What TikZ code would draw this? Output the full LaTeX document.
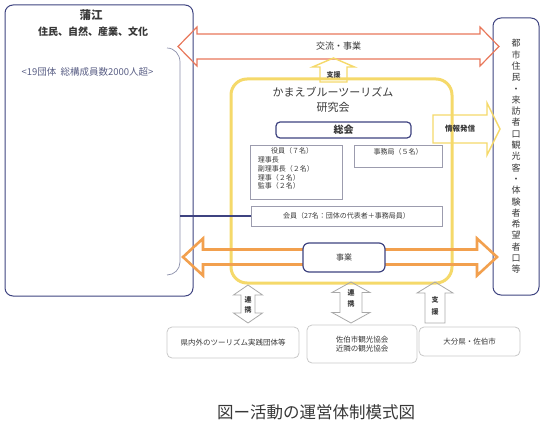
\documentclass[tikz,border=0pt]{standalone}
\usepackage{fontspec}
\setmainfont{Noto Sans CJK JP}
\usetikzlibrary{positioning,calc}
\definecolor{navy}{HTML}{3E4380}
\definecolor{ink}{HTML}{383838}
\definecolor{slate}{HTML}{5A5F85}
\definecolor{ornred}{HTML}{E8775A}
\definecolor{orng}{HTML}{F2A04E}
\definecolor{ylw}{HTML}{F5D96A}
\definecolor{gry}{HTML}{A9A9A9}
\definecolor{lgry}{HTML}{C8C8C8}
\definecolor{boxgry}{HTML}{9C9CAE}
\newcommand\fsz[2]{\fontsize{#1}{#2}\selectfont}
% hollow double arrow: style, end A, end B, half shaft, half head, head length
\newcommand\fatdarrow[6]{%
  \path (#2) coordinate (da) (#3) coordinate (db)
        ($(da)!#6!(db)$) coordinate (dha) ($(db)!#6!(da)$) coordinate (dhb);
  \draw[#1] (da) -- ($(dha)!#5!90:(db)$) -- ($(dha)!#4!90:(db)$)
        -- ($(dhb)!#4!-90:(da)$) -- ($(dhb)!#5!-90:(da)$) -- (db)
        -- ($(dhb)!#5!90:(da)$) -- ($(dhb)!#4!90:(da)$)
        -- ($(dha)!#4!-90:(db)$) -- ($(dha)!#5!-90:(db)$) -- cycle;}
% hollow single arrow: style, tail, tip, half shaft, half head, head length
\newcommand\fatsarrow[6]{%
  \path (#2) coordinate (sa) (#3) coordinate (sb) ($(sb)!#6!(sa)$) coordinate (sh);
  \draw[#1] ($(sa)!#4!90:(sb)$) -- ($(sh)!#4!-90:(sa)$) -- ($(sh)!#5!-90:(sa)$)
        -- (sb) -- ($(sh)!#5!90:(sa)$) -- ($(sh)!#4!90:(sa)$)
        -- ($(sa)!#4!-90:(sb)$) -- cycle;}
\tikzset{
  % plain text
  txt/.style     = {inner sep=0pt, align=center, text=ink},
  % outer party boxes (left / right)
  party/.style   = {rectangle, rounded corners=8pt, draw=navy, line width=1pt},
  % the study group
  group/.style   = {rectangle, rounded corners=16pt, draw=ylw, line width=3pt},
  % framed boxes inside the group
  navybox/.style = {rectangle, rounded corners=4pt, draw=navy, line width=1.2pt, fill=white},
  thinbox/.style = {rectangle, draw=boxgry, line width=.6pt},
  % partners below
  partner/.style = {rectangle, rounded corners=5pt, draw=lgry, line width=.8pt},
  % hollow arrows
  redarr/.style  = {draw=ornred, line width=1.2pt},
  orarr/.style   = {draw=orng, line width=2.6pt},
  ylarr/.style   = {draw=ylw, line width=1.4pt},
  grarr/.style   = {draw=gry, line width=.8pt},
  link/.style    = {draw=navy, line width=2.4pt},
  bracket/.style = {draw=slate!70, line width=.7pt},
}
\begin{document}
\begin{tikzpicture}[x=1pt, y=-1pt]
  \useasboundingbox (0,0) rectangle (543,425);

  % left: Kamae
  \node[party, minimum width=188pt, minimum height=291pt] (kamae) at (99,150.5) {};
  \node[txt, font=\fsz{11.5}{13}\bfseries] (kname) at (91,15) {蒲江};
  \node[txt, font=\fsz{10}{12}\bfseries] (kres) at (93,32) {住民、自然、産業、文化};
  \node[txt, font=\fsz{9.5}{11}, text=slate] (kgrp) at (87.5,72) {<19団体\ \ 総構成員数2000人超>};
  \coordinate (brkA) at (167,48);
  \coordinate (brkB) at (180,62);
  \coordinate (brkC) at (180,262);
  \coordinate (brkD) at (167,275);
  \coordinate (brk) at (180,216);
  \draw[bracket] (brkA) to[out=0,in=90] (brkB) -- (brkC) to[out=-90,in=0] (brkD);

  % right: visitors
  \node[party, minimum width=46pt, minimum height=277pt] (visit) at (516,156.5) {};
  \node[txt, font=\fsz{9}{11.3}] (vtext) at (visit)
       {都\\市\\住\\民\\・\\来\\訪\\者\\口\\観\\光\\客\\・\\体\\験\\者\\希\\望\\者\\口\\等};

  % top exchange arrow
  \coordinate (xchgL) at (178,46.5);
  \coordinate (xchgR) at (499,46.5);
  \fatdarrow{redarr}{xchgL}{xchgR}{12.5pt}{19.5pt}{19pt}
  \node[txt, font=\fsz{9}{11}] (xchg) at ($(xchgL)!.5!(xchgR)$) {交流・事業};

  % study group
  \node[group, minimum width=221pt, minimum height=204pt] (kenkyu) at (341.5,181) {};
  \node[txt, font=\fsz{11}{15}] (title) at (333,100) {かまえブルーツーリズム\\研究会};
  \coordinate (shienT) at (333.5,58);
  \coordinate (shienB) at (333.5,82);
  \fatsarrow{ylarr}{shienB}{shienT}{13.5pt}{21pt}{9pt}
  \node[txt, font=\fsz{7}{8}\bfseries] (shien) at (333.5,74.5) {支援};

  \node[navybox, minimum width=135pt, minimum height=16pt] (sokai) at (343.5,130) {};
  \node[txt, font=\fsz{10}{12}\bfseries] at (sokai) {総会};

  \node[thinbox, minimum width=92pt, minimum height=54pt] (yakuin) at (296,172) {};
  \node[txt, font=\fsz{7}{8}, anchor=north] (yhead) at ([xshift=-4pt,yshift=-3pt]yakuin.north) {役員（７名）};
  \node[txt, font=\fsz{7}{8.7}, align=left, anchor=north west] (ylist) at ([xshift=8pt,yshift=-12pt]yakuin.north west)
       {理事長\\副理事長（２名）\\理事（２名）\\監事（２名）};

  \node[thinbox, minimum width=88pt, minimum height=22pt] (jimu) at (398,156) {};
  \node[txt, font=\fsz{7}{8}, anchor=north] (jhead) at ([yshift=-3.5pt]jimu.north) {事務局（５名）};

  \node[thinbox, minimum width=191pt, minimum height=20pt] (kaiin) at (346.5,216) {};
  \node[txt, font=\fsz{7}{8}] at (kaiin) {会員（27名：団体の代表者＋事務局員）};

  \draw[link] (brk) -- (kaiin.west);

  % information arrow
  \coordinate (johoL) at (433,129);
  \coordinate (johoR) at (500,129);
  \fatsarrow{ylarr}{johoL}{johoR}{14pt}{26pt}{13pt}
  \node[txt, font=\fsz{7.5}{9}\bfseries] (joho) at (460,129) {情報発信};

  % project arrow
  \coordinate (jigyoL) at (183,257);
  \coordinate (jigyoR) at (497,257);
  \fatdarrow{orarr}{jigyoL}{jigyoR}{7.5pt}{18.5pt}{20pt}
  \node[navybox, minimum width=82pt, minimum height=29pt, rounded corners=6pt] (jigyo) at (344,257.5) {};
  \node[txt, font=\fsz{8}{10}] at (jigyo) {事業};

  % partners
  \node[partner, minimum width=132pt, minimum height=31pt] (tour) at (233,342.5) {};
  \node[txt, font=\fsz{7.5}{9}] at (tour) {県内外のツーリズム実践団体等};
  \node[partner, minimum width=110pt, minimum height=38pt] (kanko) at (362,344) {};
  \node[txt, font=\fsz{7.5}{9.5}] at (kanko) {佐伯市観光協会\\近隣の観光協会};
  \node[partner, minimum width=101pt, minimum height=29pt] (pref) at (469.5,341.5) {};
  \node[txt, font=\fsz{7.5}{9}] at (pref) {大分県・佐伯市};

  \coordinate (renAT) at (248,285);
  \coordinate (renAB) at (248,323);
  \fatdarrow{grarr}{renAT}{renAB}{7pt}{14.5pt}{10pt}
  \node[txt, font=\fsz{7}{10}\bfseries] (renA) at (248,305) {連\\携};
  \coordinate (renBT) at (351,282);
  \coordinate (renBB) at (351,323);
  \fatdarrow{grarr}{renBT}{renBB}{11pt}{19pt}{10.5pt}
  \node[txt, font=\fsz{7}{11}\bfseries] (renB) at (351,298) {連\\携};
  \coordinate (prefT) at (435,282);
  \coordinate (prefB) at (435,323);
  \fatsarrow{grarr}{prefB}{prefT}{10pt}{18pt}{11pt}
  \node[txt, font=\fsz{7}{12}\bfseries] (shienP) at (435,306) {支\\援};

  % caption
  \node[txt, font=\fsz{16.5}{18}] (cap) at (316,412) {図ー活動の運営体制模式図};
\end{tikzpicture}
\end{document}
